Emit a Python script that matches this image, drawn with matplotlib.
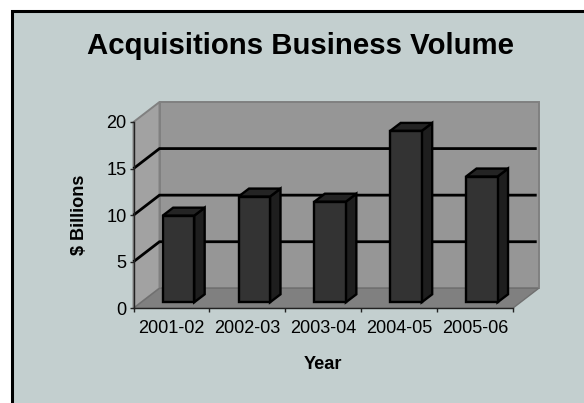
import matplotlib
matplotlib.use("Agg")
import matplotlib.pyplot as plt
from matplotlib.patches import Polygon, Rectangle

plt.rcParams['font.family'] = ['Liberation Sans', 'DejaVu Sans']

years = ['2001-02', '2002-03', '2003-04', '2004-05', '2005-06']
values = [9.3, 11.35, 10.8, 18.4, 13.5]
y_ticks = [0, 5, 10, 15, 20]
title = 'Acquisitions Business Volume'
x_label = 'Year'
y_label = '$ Billions'

W, H = 584, 403
fig = plt.figure(figsize=(W / 100, H / 100), dpi=100, facecolor='white')
fig.add_artist(Rectangle((11.5 / W, -0.1), 1.2, 1.1 - 11.3 / H, transform=fig.transFigure,
                         facecolor='#C3CFCF', edgecolor='black', linewidth=2.2, zorder=-5))

L, R, T, B = 133.5, 512.7, 122.0, 308.3
ax = fig.add_axes([L / W, 1 - B / H, (R - L) / W, (B - T) / H])
ax.set_xlim(0, len(years))
ax.set_ylim(0, 20)
ax.patch.set_visible(False)
for s in ax.spines.values():
    s.set_visible(False)

px_x = len(years) / (R - L)      # data units per pixel
px_y = 20 / (B - T)
DX, DY = 26 * px_x, 20 * px_y    # depth of the 3-D box


def poly(pts, fc, ec='none', lw=0, z=1, **kw):
    ax.add_patch(Polygon(pts, closed=True, facecolor=fc, edgecolor=ec, linewidth=lw,
                         zorder=z, clip_on=False, joinstyle='miter', **kw))


n = len(years)
# walls and floor
poly([(DX, DY), (n + DX, DY), (n + DX, 20 + DY), (DX, 20 + DY)], '#969696', '#808080', 1.4, 1)
poly([(0, 0), (DX, DY), (DX, 20 + DY), (0, 20)], '#A2A2A2', '#808080', 1.4, 1)
poly([(0, 0), (n, 0), (n + DX, DY), (DX, DY)], '#808080', '#707070', 1.0, 1)

# gridlines
for v in y_ticks[1:-1]:
    ax.plot([0, DX, n + DX - 2 * px_x], [v, v + DY, v + DY], color='black', lw=2.0, zorder=2,
            clip_on=False, solid_capstyle='butt', solid_joinstyle='miter')

# bars
OX, OY = 8 * px_x, 6 * px_y
BW, BX, BY = 31.5 * px_x, 10.5 * px_x, 8 * px_y
for i, v in enumerate(values):
    x0 = i + 0.5 - BW / 2 + OX - 1 * px_x
    x1 = x0 + BW
    y0, y1 = OY, OY + v
    kw = dict(ec='black', lw=1.7, z=3 + i)
    poly([(x1, y0), (x1 + BX, y0 + BY), (x1 + BX, y1 + BY), (x1, y1)], '#1E1E1E', **kw)
    poly([(x0, y1), (x1, y1), (x1 + BX, y1 + BY), (x0 + BX, y1 + BY)], '#242424', **kw)
    poly([(x0, y0), (x1, y0), (x1, y1), (x0, y1)], '#333333', **kw)

# axis lines and ticks
ax.plot([0, 0], [0, 20], color='#222222', lw=1.0, zorder=20, clip_on=False)
ax.plot([0, n], [0, 0], color='#222222', lw=1.0, zorder=20, clip_on=False)
ax.set_xticks(range(n + 1))
ax.set_xticklabels([''] * (n + 1))
ax.set_yticks(y_ticks)
ax.set_yticklabels([str(v) for v in y_ticks], fontsize=13.1, color='black')
ax.tick_params(axis='both', length=3, width=1.0, color='#222222', pad=2)
for i, lab in enumerate(years):
    ax.annotate(lab, (i + 0.5, 0), xytext=(0, -14.6), textcoords='offset points', ha='center',
                va='center', fontsize=13.1, annotation_clip=False)

fig.text(300 / W, 1 - 46 / H, title, ha='center', va='center', fontsize=21.2, fontweight='bold')
fig.text(323 / W, 1 - 364.5 / H, x_label, ha='center', va='center', fontsize=13.1, fontweight='bold')
fig.text(79 / W, 1 - 214.5 / H, y_label, ha='center', va='center', rotation=90, fontsize=13.1,
         fontweight='bold')

fig.savefig('out.png', dpi=100, facecolor='white')
